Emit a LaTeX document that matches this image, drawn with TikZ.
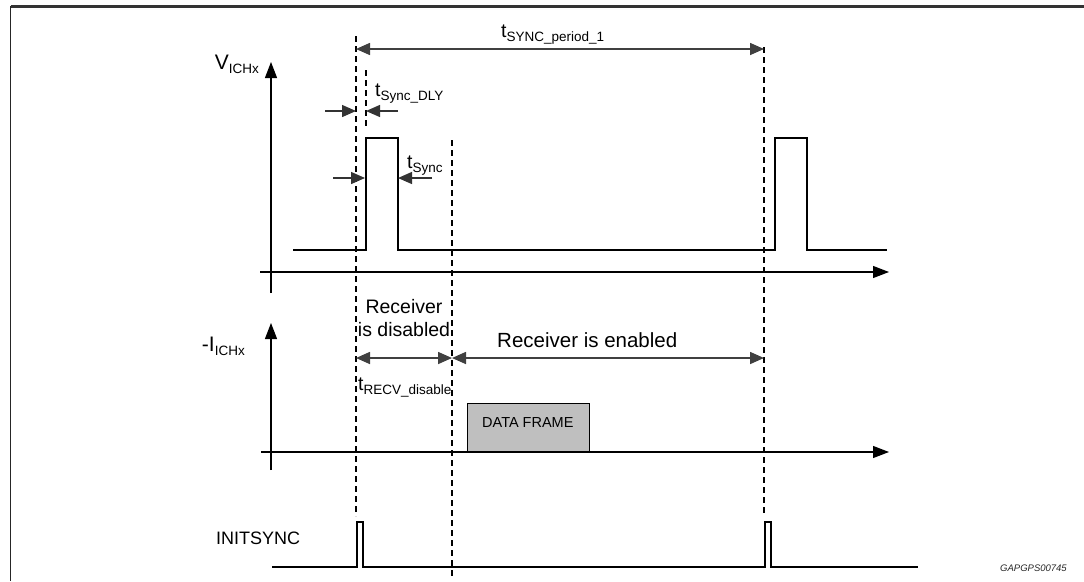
\documentclass[tikz,border=0pt]{standalone}
\usepackage{fontspec}
\setmainfont{Liberation Sans}
\usetikzlibrary{arrows.meta}
\newcommand{\tlab}[2][13.5]{t\raisebox{-4pt}{\fontsize{#1}{#1}\selectfont #2}}
\begin{document}
\begin{tikzpicture}[x=1pt,y=-1pt,
  sig/.style={line width=1.3pt,black},
  vdash/.style={line width=1.1pt,black,dash pattern=on 6pt off 4pt},
  axis/.style={line width=1.2pt,black,-{Triangle[length=16pt,width=12pt]}},
  dimline/.style={line width=1.6pt,black!75,{Triangle[length=14pt,width=12pt]}-{Triangle[length=14pt,width=12pt]}},
  onearrow/.style={line width=1.4pt,black!80,-{Triangle[length=14pt,width=12pt]}},
  lbl/.style={inner sep=0pt,font=\fontsize{19.5}{23}\selectfont},
  frametop/.style={line width=3pt,black!80},
  frameside/.style={line width=1.5pt,black!85}]
\useasboundingbox (0,0) rectangle (1084,581);
% frame
\coordinate (ftl) at (10.5,6);
\coordinate (ftr) at (1084,6);
\coordinate (fbl) at (10.5,581);
\draw[frametop] (ftl) -- (ftr);
\draw[frameside] (ftl) -- (fbl);

% ---- top graph (V_ICHx)
\coordinate (vaxB) at (271,293);
\coordinate (vaxT) at (271,62);
\coordinate (haxL) at (260,272);
\coordinate (haxR) at (889,272);
\draw[axis] (vaxB) -- (vaxT);
\draw[axis] (haxL) -- (haxR);
\node[lbl,anchor=base east,font=\fontsize{21}{24}\selectfont] (vlab) at (259,69) {V\raisebox{-4pt}{\fontsize{13.5}{14}\selectfont ICHx}};

\coordinate (s0) at (293,250);
\coordinate (s1) at (366,250);
\coordinate (s2) at (366,138);
\coordinate (s3) at (398,138);
\coordinate (s4) at (398,250);
\coordinate (s5) at (775,250);
\coordinate (s6) at (775,138);
\coordinate (s7) at (807,138);
\coordinate (s8) at (807,250);
\coordinate (s9) at (887,250);
\draw[sig] (s0) -- (s1) -- (s2) -- (s3) -- (s4) -- (s5) -- (s6) -- (s7) -- (s8) -- (s9);

% dashed verticals
\coordinate (d1T) at (356,36);
\coordinate (d1B) at (356,516);
\coordinate (d2T) at (764,47);
\coordinate (d2B) at (764,516);
\coordinate (d3T) at (452,140);
\coordinate (d3B) at (452,578);
\coordinate (d4T) at (366,70);
\coordinate (d4B) at (366,128);
\draw[vdash] (d1T) -- (d1B);
\draw[vdash] (d2T) -- (d2B);
\draw[vdash] (d3T) -- (d3B);
\draw[vdash] (d4T) -- (d4B);

% period dimension
\coordinate (pL) at (356,49);
\coordinate (pR) at (764,49);
\draw[dimline] (pL) -- (pR);
\node[lbl,anchor=base west] (plab) at (501,37) {\tlab{SYNC\_period\_1}};

% sync delay
\coordinate (dlyA) at (325,111);
\coordinate (dlyAt) at (356,111);
\coordinate (dlyB) at (398,111);
\coordinate (dlyBt) at (366,111);
\draw[onearrow] (dlyA) -- (dlyAt);
\draw[onearrow] (dlyB) -- (dlyBt);
\node[lbl,anchor=base west] (dlylab) at (375,96) {\tlab{Sync\_DLY}};

% sync width
\coordinate (swA) at (333,178);
\coordinate (swAt) at (365,178);
\coordinate (swB) at (432,178);
\coordinate (swBt) at (398,178);
\draw[onearrow] (swA) -- (swAt);
\draw[onearrow] (swB) -- (swBt);
\node[lbl,anchor=base west] (swlab) at (407,168) {\tlab{Sync}};

% ---- middle graph (-I_ICHx)
\coordinate (iaxB) at (271,470);
\coordinate (iaxT) at (271,323);
\coordinate (ihL) at (261,452);
\coordinate (ihR) at (889,452);
\draw[axis] (iaxB) -- (iaxT);
\draw[axis] (ihL) -- (ihR);
\node[lbl,anchor=base east,font=\fontsize{21}{24}\selectfont] (ilab) at (245,351) {-I\raisebox{-4pt}{\fontsize{13.5}{14}\selectfont ICHx}};

\node[lbl,align=center,anchor=base] (rdis) at (404,336) {Receiver\\is disabled};
\node[lbl,anchor=base west,font=\fontsize{20.5}{24}\selectfont] (ren) at (497,347) {Receiver is enabled};

\coordinate (rA) at (356,358);
\coordinate (rB) at (452,358);
\coordinate (rC) at (764,358);
\draw[dimline] (rA) -- (rB);
\draw[dimline] (rB) -- (rC);
\node[lbl,anchor=base west] (rlab) at (358,390) {\tlab{RECV\_disable}};

\node[draw=black,line width=1.2pt,fill=black!25,minimum width=122pt,minimum height=48pt,anchor=south west,inner sep=0pt] (frame) at (467,452) {};
\node[inner sep=0pt,anchor=base west,font=\fontsize{14.5}{16}\selectfont] (ftext) at (482,427) {DATA FRAME};

% ---- bottom graph (INITSYNC)
\node[lbl,anchor=base west,font=\fontsize{18}{20}\selectfont] (initlab) at (216,544) {INITSYNC};
\coordinate (b0) at (272,567);
\coordinate (b1) at (357,567);
\coordinate (b2) at (357,522);
\coordinate (b3) at (363,522);
\coordinate (b4) at (363,567);
\coordinate (b5) at (765,567);
\coordinate (b6) at (765,522);
\coordinate (b7) at (771,522);
\coordinate (b8) at (771,567);
\coordinate (b9) at (918,567);
\draw[sig] (b0) -- (b1) -- (b2) -- (b3) -- (b4) -- (b5) -- (b6) -- (b7) -- (b8) -- (b9);

\node[inner sep=0pt,anchor=base west,font=\fontsize{9.5}{10}\selectfont\itshape,text=black!85] (code) at (1000,571) {GAPGPS00745};
\end{tikzpicture}
\end{document}
